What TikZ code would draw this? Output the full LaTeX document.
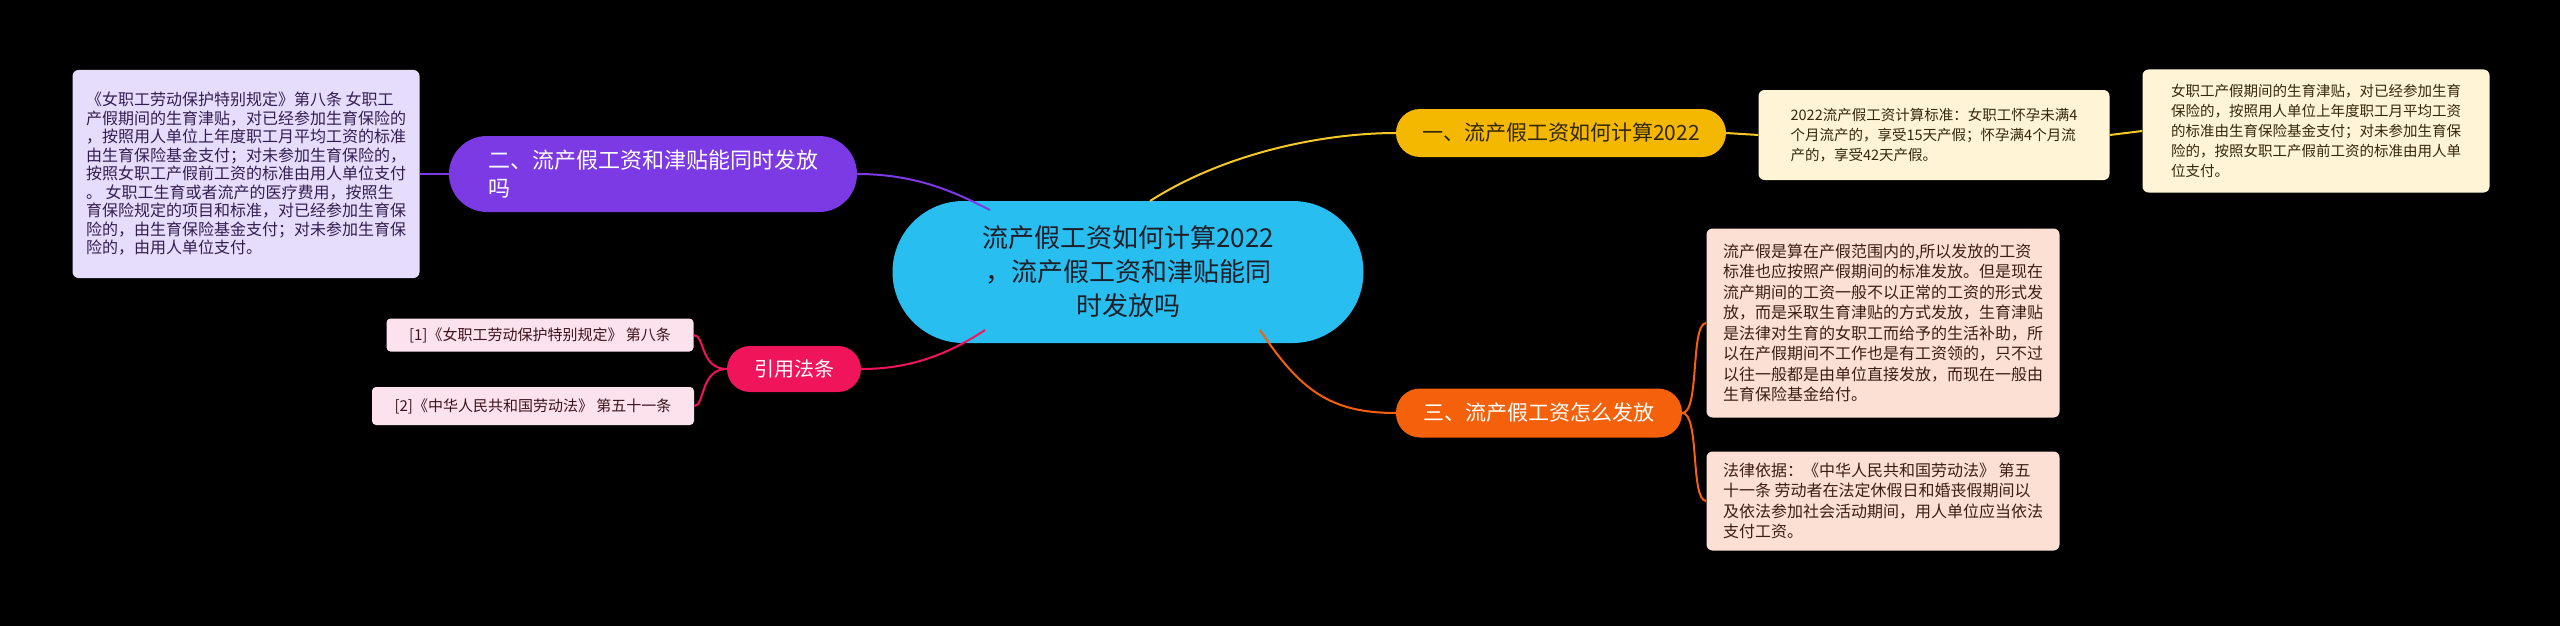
\documentclass[tikz,border=0pt]{standalone}
\usepackage{fontspec}
\setmainfont{Noto Sans CJK SC}
\definecolor{ccyan}{RGB}{40,190,240}
\definecolor{cctext}{RGB}{30,30,40}
\definecolor{cpur}{RGB}{124,58,228}
\definecolor{cpurl}{RGB}{230,220,252}
\definecolor{cpurt}{RGB}{50,30,80}
\definecolor{cred}{RGB}{240,20,90}
\definecolor{credl}{RGB}{252,226,236}
\definecolor{credt}{RGB}{60,20,30}
\definecolor{cyel}{RGB}{245,184,0}
\definecolor{cyelline}{RGB}{245,200,40}
\definecolor{cyell}{RGB}{255,245,214}
\definecolor{cyelt}{RGB}{50,40,10}
\definecolor{cora}{RGB}{245,96,10}
\definecolor{coral}{RGB}{252,224,212}
\definecolor{corat}{RGB}{60,30,20}
\begin{document}
\begin{tikzpicture}[x=1pt,y=-1pt,
 box/.style={rounded corners=6pt,align=left,inner sep=0pt,anchor=center},
 br/.style={line width=2pt}]
\fill[black] (0,0) rectangle (2560,626);
\useasboundingbox (0,0) rectangle (2560,626);
% center
\node[box,fill=ccyan,rounded corners=71pt,minimum width=471pt,minimum height=142pt,align=center,font=\fontsize{26}{34}\selectfont,text=cctext] (c) at (1128,272) {流产假工资如何计算2022\\，流产假工资和津贴能同\\时发放吗};
% purple
\node[box,fill=cpur,rounded corners=38pt,minimum width=408pt,minimum height=76pt,text=white,font=\fontsize{22}{28}\selectfont] (p) at (653,174) {二、流产假工资和津贴能同时发放\\吗};
\node[box,fill=cpurl,minimum width=347pt,minimum height=208pt,font=\fontsize{16}{18.5}\selectfont,text=cpurt] (pb) at (246,174) {《女职工劳动保护特别规定》第八条 女职工\\产假期间的生育津贴，对已经参加生育保险的\\，按照用人单位上年度职工月平均工资的标准\\由生育保险基金支付；对未参加生育保险的，\\按照女职工产假前工资的标准由用人单位支付\\。 女职工生育或者流产的医疗费用，按照生\\育保险规定的项目和标准，对已经参加生育保\\险的，由生育保险基金支付；对未参加生育保\\险的，由用人单位支付。};
% red
\node[box,fill=cred,rounded corners=23pt,minimum width=134pt,minimum height=46pt,text=white,font=\fontsize{20}{24}\selectfont] (r) at (794,369) {引用法条};
\node[box,fill=credl,rounded corners=4pt,minimum width=307pt,minimum height=33pt,font=\fontsize{15}{18}\selectfont,text=credt] (r1) at (540,335) {[1]《女职工劳动保护特别规定》 第八条};
\node[box,fill=credl,rounded corners=4pt,minimum width=322pt,minimum height=38pt,font=\fontsize{15}{18}\selectfont,text=credt] (r2) at (533,406) {[2]《中华人民共和国劳动法》 第五十一条};
% yellow
\node[box,fill=cyel,rounded corners=24pt,minimum width=330pt,minimum height=48pt,font=\fontsize{21}{26}\selectfont,text=cyelt] (y) at (1561,133) {一、流产假工资如何计算2022};
\node[box,fill=cyell,minimum width=351pt,minimum height=90pt,font=\fontsize{14.5}{20}\selectfont,text=cyelt] (y1) at (1934,135) {2022流产假工资计算标准：女职工怀孕未满4\\个月流产的，享受15天产假；怀孕满4个月流\\产的，享受42天产假。};
\node[box,fill=cyell,minimum width=347pt,minimum height=123pt,font=\fontsize{14.5}{20}\selectfont,text=cyelt] (y2) at (2316,131) {女职工产假期间的生育津贴，对已经参加生育\\保险的，按照用人单位上年度职工月平均工资\\的标准由生育保险基金支付；对未参加生育保\\险的，按照女职工产假前工资的标准由用人单\\位支付。};
% orange
\node[box,fill=cora,rounded corners=24pt,minimum width=286pt,minimum height=49pt,text=white,font=\fontsize{21}{26}\selectfont] (o) at (1539,413) {三、流产假工资怎么发放};
\node[box,fill=coral,minimum width=353pt,minimum height=189pt,font=\fontsize{16}{20.5}\selectfont,text=corat] (o1) at (1883,323) {流产假是算在产假范围内的,所以发放的工资\\标准也应按照产假期间的标准发放。但是现在\\流产期间的工资一般不以正常的工资的形式发\\放，而是采取生育津贴的方式发放，生育津贴\\是法律对生育的女职工而给予的生活补助，所\\以在产假期间不工作也是有工资领的，只不过\\以往一般都是由单位直接发放，而现在一般由\\生育保险基金给付。};
\node[box,fill=coral,minimum width=353pt,minimum height=99pt,font=\fontsize{16}{20.5}\selectfont,text=corat] (o2) at (1883,501) {法律依据：《中华人民共和国劳动法》 第五\\十一条 劳动者在法定休假日和婚丧假期间以\\及依法参加社会活动期间，用人单位应当依法\\支付工资。};
% connectors
\coordinate (cy) at (1150,201);
\coordinate (cp) at (990,210);
\coordinate (cr) at (985,330);
\coordinate (co) at (1260,330);
\begin{scope}[br]
\draw[cyelline] (cy) .. controls (1230,150) and (1330,133) .. (y.west);
\draw[cyelline] (y.east) -- (y1.west);
\draw[cyelline] (y1.east) -- (y2.west);
\draw[cpur] (p.east) .. controls (920,174) and (960,195) .. (cp);
\draw[cpur] (p.west) -- (pb.east);
\draw[cred] (cr) .. controls (940,360) and (900,369) .. (r.east);
\draw[cred] (r.west) .. controls (700,369) and (705,335) .. (r1.east);
\draw[cred] (r.west) .. controls (700,369) and (705,406) .. (r2.east);
\draw[cora] (co) .. controls (1300,390) and (1330,413) .. (o.west);
\draw[cora] (o.east) .. controls (1700,413) and (1690,323) .. (o1.west);
\draw[cora] (o.east) .. controls (1700,413) and (1690,501) .. (o2.west);
\end{scope}
\end{tikzpicture}
\end{document}
